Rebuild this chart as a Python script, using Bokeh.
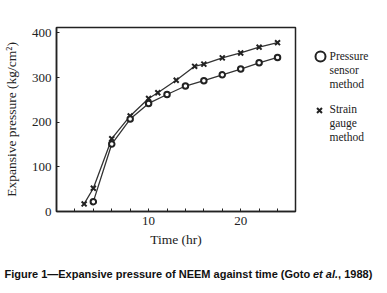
from bokeh.plotting import figure
from bokeh.models import Label, FixedTicker, Range1d
from bokeh.layouts import row, column
from bokeh.embed import file_html
from bokeh.resources import INLINE

# Data
strain_t = [3, 4, 6, 8, 10, 11, 13, 15, 16, 18, 20, 22, 24]
strain_p = [17, 52, 163, 214, 253, 266, 294, 325, 330, 344, 355, 368, 378]
sensor_t = [4, 6, 8, 10, 12, 14, 16, 18, 20, 22, 24]
sensor_p = [22, 151, 207, 242, 262, 281, 293, 306, 319, 333, 345]
x_ticks = [10, 20]
x_minor = [2, 4, 6, 8, 12, 14, 16, 18, 22, 24]
y_ticks = [0, 100, 200, 300, 400]
legend_sensor = ["Pressure", "sensor", "method"]
legend_strain = ["Strain", "gauge", "method"]
caption_parts = ["Figure 1\u2014Expansive pressure of NEEM against time (Goto ", "et al.", ", 1988)"]

W, H = 387, 293
MAIN_W, MAIN_H = 300, 250
FL, FR, FT, FB = 50, 295, 27, 211
XMAX, YMAX = 25.95, 412
INK = "#222222"
SERIF = "Liberation Serif"

p = figure(width=MAIN_W, height=MAIN_H, output_backend="svg", toolbar_location=None,
           x_range=Range1d(0, XMAX), y_range=Range1d(0, YMAX),
           min_border_left=FL, min_border_right=MAIN_W - FR,
           min_border_top=FT, min_border_bottom=MAIN_H - FB)
p.background_fill_color = "white"
p.border_fill_color = "white"
p.grid.visible = False
p.outline_line_color = INK
p.outline_line_width = 1.5

for ax in (p.xaxis, p.yaxis):
    ax.axis_line_color = INK
    ax.axis_line_width = 1.5
    ax.major_tick_in = 3
    ax.major_tick_out = 0
    ax.minor_tick_in = 3
    ax.minor_tick_out = 0
    ax.major_tick_line_color = INK
    ax.minor_tick_line_color = INK
    ax.major_label_text_font = SERIF
    ax.major_label_text_font_size = "13px"
    ax.major_label_text_color = INK
    ax.axis_label_text_font = SERIF
    ax.axis_label_text_font_size = "13.5px"
    ax.axis_label_text_font_style = "normal"
    ax.axis_label_text_color = INK

p.xaxis.ticker = FixedTicker(ticks=x_ticks, minor_ticks=x_minor)
p.yaxis.ticker = FixedTicker(ticks=y_ticks, minor_ticks=[])
p.xaxis.major_label_standoff = 5
p.yaxis.major_label_standoff = 5
p.xaxis.axis_label = "Time (hr)"
p.yaxis.axis_label = "Expansive pressure (kg/cm\u00b2)"
p.xaxis.axis_label_standoff = 4
p.yaxis.axis_label_standoff = 10

LINE = "#333333"
p.line(strain_t, strain_p, line_color=LINE, line_width=1.3)
p.scatter(strain_t, strain_p, marker="x", size=7, line_color=INK, line_width=2)
p.line(sensor_t, sensor_p, line_color=LINE, line_width=1.3)
p.scatter(sensor_t, sensor_p, marker="circle", size=5.5, fill_color="white",
          line_color=INK, line_width=2)


def blank(w, h, top, bottom):
    # frame spans canvas rows top..bottom; data coords equal canvas pixels
    f = figure(width=w, height=h, output_backend="svg", toolbar_location=None,
               x_range=Range1d(0, w), y_range=Range1d(bottom, top),
               x_axis_location=None, y_axis_location=None,
               min_border_left=0, min_border_right=0,
               min_border_top=top, min_border_bottom=h - bottom)
    f.grid.visible = False
    f.outline_line_color = None
    f.background_fill_color = "white"
    f.border_fill_color = "white"
    return f


def lab(f, px, py, text, font=SERIF, size="11.5px", style="normal", align="left", color=INK):
    f.add_layout(Label(x=px, y=py, text=text,
                       text_font=font, text_font_size=size,
                       text_font_style=style, text_align=align, text_baseline="middle",
                       text_color=color))


# legend panel (right of the plot), frame aligned with the main plot's frame
LW = W - MAIN_W
leg = blank(LW, MAIN_H, FT, FB)
leg.scatter([20], [56], marker="circle", size=10, fill_color="white", line_color=INK, line_width=2)
for i, t in enumerate(legend_sensor):
    lab(leg, 29, 55 + 14 * i, t)
leg.scatter([19], [110], marker="x", size=7, line_color=INK, line_width=2)
for i, t in enumerate(legend_strain):
    lab(leg, 29, 108 + 14 * i, t)

# caption panel
CH = H - MAIN_H
cap = blank(W, CH, 0, CH)
CAP = "Liberation Sans"
cy = 273 - MAIN_H
lab(cap, 4, cy, caption_parts[0], font=CAP, size="11px", style="bold", color="#111111")
lab(cap, 312.5, cy, caption_parts[1], font=CAP, size="11px", style="bold italic", color="#111111")
lab(cap, 337.6, cy, caption_parts[2], font=CAP, size="11px", style="bold", color="#111111")

layout = column(row(p, leg, spacing=0), cap, spacing=0)
open("out.html", "w").write(file_html(layout, INLINE))
